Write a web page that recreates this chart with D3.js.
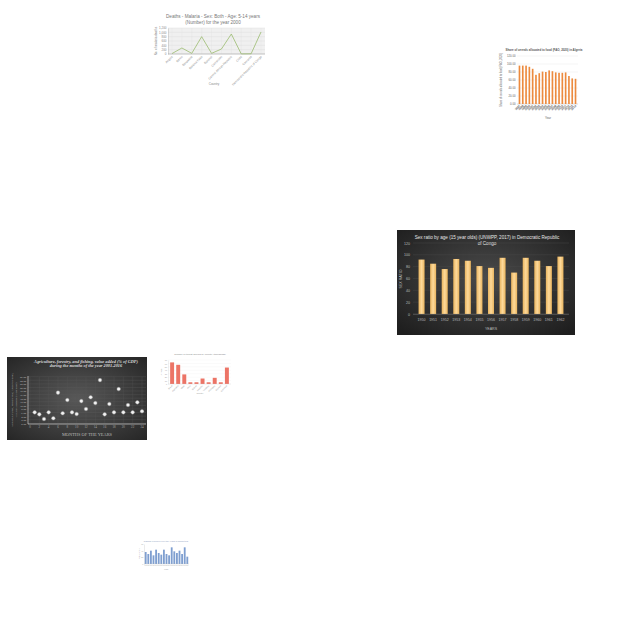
<!DOCTYPE html>
<html><head><meta charset="utf-8">
<script src="https://cdn.jsdelivr.net/npm/d3@7"></script>
<style>html,body{margin:0;padding:0;background:#fff;}svg{display:block;}</style>
</head><body>
<script>
// ---------- DATA ----------
const malariaCountries = ["Angola","Benin","Botswana","Burkina Faso","Burundi","Cameroon","Central African Republic","Chad","Comoros","Democratic Republic of Congo"];
const malariaDeaths = [20, 277, 30, 800, 30, 230, 923, 5, 10, 1015];
const malariaTicks = [0, 200, 400, 600, 800, 1000, 1200];

const cerealYears = ["1997","1998","1999","2000","2001","2002","2003","2004","2005","2006","2007","2008","2009","2010","2011","2012","2013","2014"];
const cerealShare = [96, 96, 96, 93, 88, 73, 77, 81, 80, 84, 82, 79, 78, 78, 79, 70, 64, 63];
const cerealTicks = [0, 20, 40, 60, 80, 100, 120];

const sexRatioYears = ["1950","1951","1952","1953","1954","1955","1956","1957","1958","1959","1960","1961","1962"];
const sexRatioValues = [92, 85, 76, 93, 90, 81, 78, 95, 70, 95, 90, 81, 97];
const sexRatioTicks = [0, 20, 40, 60, 80, 100, 120];

const agriMonths = [1,2,3,4,5,6,7,8,9,10,11,12,13,14,15,16,17,18,19,20,21,22,23,24];
const agriValues = [6.1, 5.0, 2.4, 6.1, 2.8, 17.1, 5.6, 13.0, 6.1, 5.2, 12.4, 8.0, 14.5, 11.3, 24.1, 5.0, 10.8, 6.1, 19.1, 6.1, 10.2, 6.1, 11.7, 6.7];
const agriXTicks = [0,2,4,6,8,10,12,14,16,18,20,22,24];
const agriYTicks = [0,2,4,6,8,10,12,14,16,18,20,22,24,26];

const smallCountries = ["Brazil","Argentina","Chile","Peru","Bolivia","Ecuador","Uruguay","Paraguay","Guyana","Colombia"];
const smallValues = [63, 56, 28, 5, 5, 16, 5, 18, 5, 48];
const smallTicks = [0, 10, 20, 30, 40, 50, 60, 70];

const blueYears = ["1995","1996","1997","1998","1999","2000","2001","2002","2003","2004","2005","2006","2007","2008","2009","2010","2011"];
const blueValues = [36, 30, 40, 26, 43, 33, 28, 43, 30, 26, 50, 38, 33, 40, 30, 50, 22];
const blueTicks = [0, 20, 40, 60];

// ---------- SVG ----------
const svg = d3.select("body").append("svg").attr("width", 640).attr("height", 640);
const defs = svg.append("defs");

// ===== Chart 1: malaria line =====
(function(){
  const g = svg.append("g");
  const sans = "Liberation Sans, Arial, sans-serif";
  g.append("text").attr("x", 213).attr("y", 17.5).attr("text-anchor","middle")
    .attr("font-family", sans).attr("font-size", 4.6).attr("fill","#777")
    .text("Deaths - Malaria - Sex: Both - Age: 5-14 years");
  g.append("text").attr("x", 213).attr("y", 24).attr("text-anchor","middle")
    .attr("font-family", sans).attr("font-size", 4.6).attr("fill","#777")
    .text("(Number) for the year 2000");
  const x = d3.scalePoint().domain(malariaCountries).range([172, 261]);
  const y = d3.scaleLinear().domain([0, 1200]).range([54, 28]);
  g.append("rect").attr("x",168).attr("y",28).attr("width",97).attr("height",26).attr("fill","#f0f0f0");
  g.selectAll(".gl").data(malariaTicks).join("line")
    .attr("x1",168).attr("x2",265).attr("y1",d=>y(d)).attr("y2",d=>y(d))
    .attr("stroke","#dcdcdc").attr("stroke-width",0.4);
  g.selectAll(".gv").data(malariaCountries).join("line")
    .attr("x1",d=>x(d)).attr("x2",d=>x(d)).attr("y1",28).attr("y2",54)
    .attr("stroke","#e2e2e2").attr("stroke-width",0.3);
  const ya = g.append("g").attr("transform","translate(168,0)")
    .call(d3.axisLeft(y).tickValues(malariaTicks).tickSize(0).tickPadding(1.5));
  ya.select(".domain").attr("stroke","#aaa").attr("stroke-width",0.4);
  ya.selectAll("text").attr("font-size",3).attr("fill","#888").attr("font-family",sans);
  g.append("line").attr("x1",168).attr("x2",265).attr("y1",54).attr("y2",54).attr("stroke","#999").attr("stroke-width",0.5);
  g.selectAll(".xl").data(malariaCountries).join("text")
    .attr("transform",d=>`translate(${x(d)+1},${57}) rotate(-45)`)
    .attr("text-anchor","end").attr("font-size",3).attr("fill","#888").attr("font-family",sans)
    .text(d=>d);
  g.append("path").datum(malariaDeaths)
    .attr("d", d3.line().x((d,i)=>x(malariaCountries[i])).y(d=>y(d)))
    .attr("fill","none").attr("stroke","#9bbb6e").attr("stroke-width",0.8);
  g.append("text").attr("x",214).attr("y",84.5).attr("text-anchor","middle")
    .attr("font-size",3).attr("fill","#888").attr("font-family",sans).text("Country");
  g.append("text").attr("transform","translate(157,41) rotate(-90)").attr("text-anchor","middle")
    .attr("font-size",3).attr("fill","#888").attr("font-family",sans).text("No. of malaria deaths");
})();

// ===== Chart 2: Algeria cereals =====
(function(){
  const g = svg.append("g");
  const sans = "Liberation Sans, Arial, sans-serif";
  g.append("text").attr("x",544).attr("y",50.5).attr("text-anchor","middle")
    .attr("font-family",sans).attr("font-size",2.9).attr("font-weight","bold").attr("fill","#555")
    .text("Share of cereals allocated to food (FAO, 2020) in Algeria");
  const x = d3.scaleBand().domain(cerealYears).range([517, 578]).padding(0.5);
  const y = d3.scaleLinear().domain([0, 120]).range([104, 56]);
  g.selectAll(".gl").data(cerealTicks).join("line")
    .attr("x1",517).attr("x2",578).attr("y1",d=>y(d)).attr("y2",d=>y(d))
    .attr("stroke","#e4e4e4").attr("stroke-width",0.4);
  const ya = g.append("g").attr("transform","translate(517,0)")
    .call(d3.axisLeft(y).tickValues(cerealTicks).tickFormat(d3.format(".2f")).tickSize(0).tickPadding(1.5));
  ya.select(".domain").remove();
  ya.selectAll("text").attr("font-size",2.8).attr("fill","#666").attr("font-family",sans);
  g.append("line").attr("x1",517).attr("x2",578).attr("y1",104).attr("y2",104).attr("stroke","#bbb").attr("stroke-width",0.4);
  g.selectAll(".bar").data(cerealShare).join("rect")
    .attr("x",(d,i)=>x(cerealYears[i])).attr("y",d=>y(d))
    .attr("width",x.bandwidth()).attr("height",d=>104-y(d)).attr("fill","#ec8a3e");
  g.selectAll(".xl").data(cerealYears).join("text")
    .attr("transform",d=>`translate(${x(d)+x.bandwidth()/2+1},${106}) rotate(-45)`)
    .attr("text-anchor","end").attr("font-size",2.9).attr("font-weight","bold").attr("fill","#666").attr("font-family",sans)
    .text(d=>d);
  g.append("text").attr("x",548).attr("y",118.5).attr("text-anchor","middle")
    .attr("font-size",3).attr("fill","#666").attr("font-family",sans).text("Year");
  g.append("text").attr("transform","translate(502,80) rotate(-90)").attr("text-anchor","middle")
    .attr("font-size",2.6).attr("fill","#666").attr("font-family",sans).text("Share of cereals allocated to food (FAO, 2020)");
})();

// ===== Chart 3: Sex ratio DRC (dark) =====
(function(){
  const g = svg.append("g");
  const sans = "Liberation Sans, Arial, sans-serif";
  const bg = defs.append("radialGradient").attr("id","bg3").attr("cx","50%").attr("cy","45%").attr("r","70%");
  bg.append("stop").attr("offset","0%").attr("stop-color","#4a4a4a");
  bg.append("stop").attr("offset","100%").attr("stop-color","#1e1e1e");
  const bar = defs.append("linearGradient").attr("id","bar3").attr("x1","0").attr("x2","1").attr("y1","0").attr("y2","0");
  bar.append("stop").attr("offset","0%").attr("stop-color","#e9b45e");
  bar.append("stop").attr("offset","50%").attr("stop-color","#fdd99a");
  bar.append("stop").attr("offset","100%").attr("stop-color","#e9b45e");
  g.append("rect").attr("x",397).attr("y",230).attr("width",178).attr("height",105).attr("fill","url(#bg3)");
  g.append("text").attr("x",487).attr("y",239).attr("text-anchor","middle")
    .attr("font-family",sans).attr("font-size",4.6).attr("fill","#e6e6e6")
    .text("Sex ratio by age (15 year olds) (UNWPP, 2017) in Democratic Republic");
  g.append("text").attr("x",487).attr("y",245).attr("text-anchor","middle")
    .attr("font-family",sans).attr("font-size",4.6).attr("fill","#e6e6e6").text("of Congo");
  const x = d3.scaleBand().domain(sexRatioYears).range([413, 569]).padding(0.48);
  const y = d3.scaleLinear().domain([0, 120]).range([314, 243]);
  g.selectAll(".gl").data(sexRatioTicks).join("line")
    .attr("x1",413).attr("x2",569).attr("y1",d=>y(d)).attr("y2",d=>y(d))
    .attr("stroke","#4d4d4d").attr("stroke-width",0.4);
  const ya = g.append("g").attr("transform","translate(412,0)")
    .call(d3.axisLeft(y).tickValues(sexRatioTicks).tickSize(0).tickPadding(2));
  ya.select(".domain").remove();
  ya.selectAll("text").attr("font-size",3.6).attr("fill","#bbb").attr("font-family",sans);
  g.selectAll(".bar").data(sexRatioValues).join("rect")
    .attr("x",(d,i)=>x(sexRatioYears[i])).attr("y",d=>y(d))
    .attr("width",x.bandwidth()).attr("height",d=>314-y(d)).attr("fill","url(#bar3)");
  g.append("line").attr("x1",413).attr("x2",569).attr("y1",314.3).attr("y2",314.3).attr("stroke","#777").attr("stroke-width",0.5);
  g.selectAll(".xl").data(sexRatioYears).join("text")
    .attr("x",d=>x(d)+x.bandwidth()/2).attr("y",320.5).attr("text-anchor","middle")
    .attr("font-size",3.6).attr("fill","#bbb").attr("font-family",sans).text(d=>d);
  g.append("text").attr("x",491).attr("y",330).attr("text-anchor","middle")
    .attr("font-size",3.6).attr("fill","#bbb").attr("font-family",sans).text("YEARS");
  g.append("text").attr("transform","translate(402,279) rotate(-90)").attr("text-anchor","middle")
    .attr("font-size",3.6).attr("fill","#bbb").attr("font-family",sans).text("SEX RATIO");
})();

// ===== Chart 4: Agriculture scatter (dark) =====
(function(){
  const g = svg.append("g");
  const serif = "Liberation Serif, 'DejaVu Serif', serif";
  const bg = defs.append("radialGradient").attr("id","bg4").attr("cx","50%").attr("cy","50%").attr("r","70%");
  bg.append("stop").attr("offset","0%").attr("stop-color","#585858");
  bg.append("stop").attr("offset","100%").attr("stop-color","#262626");
  g.append("rect").attr("x",7).attr("y",357).attr("width",140).attr("height",83).attr("fill","url(#bg4)");
  g.append("text").attr("x",86).attr("y",362.5).attr("text-anchor","middle")
    .attr("font-family",serif).attr("font-size",4.3).attr("font-style","italic").attr("font-weight","bold").attr("fill","#ddd")
    .text("Agriculture, forestry, and fishing, value added (% of GDP)");
  g.append("text").attr("x",86).attr("y",367).attr("text-anchor","middle")
    .attr("font-family",serif).attr("font-size",4.3).attr("font-style","italic").attr("font-weight","bold").attr("fill","#ddd")
    .text("during the months of the year 2001-2016");
  const x = d3.scaleLinear().domain([0, 24]).range([30, 142]);
  const y = d3.scaleLinear().domain([0, 26]).range([423.3, 376.7]);
  g.selectAll(".gl").data(agriYTicks).join("line")
    .attr("x1",28).attr("x2",146).attr("y1",d=>y(d)).attr("y2",d=>y(d))
    .attr("stroke","#5e5e5e").attr("stroke-width",0.3);
  g.selectAll(".gv").data(agriXTicks).join("line")
    .attr("x1",d=>x(d)).attr("x2",d=>x(d)).attr("y1",376.7).attr("y2",423.3)
    .attr("stroke","#5a5a5a").attr("stroke-width",0.3);
  g.append("line").attr("x1",28).attr("x2",28).attr("y1",376).attr("y2",424).attr("stroke","#cfcfcf").attr("stroke-width",0.7);
  g.append("line").attr("x1",28).attr("x2",146).attr("y1",424).attr("y2",424).attr("stroke","#cfcfcf").attr("stroke-width",0.7);
  const ya = g.append("g").attr("transform","translate(27,0)")
    .call(d3.axisLeft(y).tickValues(agriYTicks).tickFormat(d3.format(".2f")).tickSize(0).tickPadding(0.8));
  ya.select(".domain").remove();
  ya.selectAll("text").attr("font-size",2.8).attr("fill","#bbb").attr("font-family",serif);
  g.selectAll(".xl").data(agriXTicks).join("text")
    .attr("x",d=>x(d)).attr("y",428).attr("text-anchor","middle")
    .attr("font-size",3.2).attr("fill","#aaa").attr("font-family",serif).text(d=>d);
  g.append("text").attr("x",87).attr("y",436).attr("text-anchor","middle")
    .attr("font-size",4.4).attr("fill","#bbb").attr("font-family",serif).text("MONTHS OF THE YEARS");
  g.append("text").attr("transform","translate(13,400) rotate(-90)").attr("text-anchor","middle")
    .attr("font-size",2.8).attr("fill","#aaa").attr("font-family",serif).text("AGRICULTURE, FORESTRY, AND FISHING,");
  g.append("text").attr("transform","translate(17,400) rotate(-90)").attr("text-anchor","middle")
    .attr("font-size",2.8).attr("fill","#aaa").attr("font-family",serif).text("VALUE ADDED (% OF GDP)");
  g.selectAll(".pt").data(agriValues).join("circle")
    .attr("cx",(d,i)=>x(agriMonths[i])).attr("cy",d=>y(d)).attr("r",1.8)
    .attr("fill","#f2f2f2").attr("stroke","#999").attr("stroke-width",0.4);
})();

// ===== Chart 5: small coral bars =====
(function(){
  const g = svg.append("g");
  const sans = "Liberation Sans, Arial, sans-serif";
  g.append("text").attr("x",200).attr("y",354.5).attr("text-anchor","middle")
    .attr("font-family",sans).attr("font-size",2.4).attr("fill","#888")
    .text("Number of tourist arrivals by country (thousands)");
  const x = d3.scaleBand().domain(smallCountries).range([168, 231]).padding(0.35);
  const y = d3.scaleLinear().domain([0, 70]).range([384, 360]);
  g.selectAll(".gl").data(smallTicks).join("line")
    .attr("x1",168).attr("x2",231).attr("y1",d=>y(d)).attr("y2",d=>y(d))
    .attr("stroke","#eee").attr("stroke-width",0.3);
  const ya = g.append("g").attr("transform","translate(168,0)")
    .call(d3.axisLeft(y).tickValues(smallTicks).tickSize(0).tickPadding(1));
  ya.select(".domain").attr("stroke","#ccc").attr("stroke-width",0.3);
  ya.selectAll("text").attr("font-size",2).attr("fill","#999").attr("font-family",sans);
  g.selectAll(".bar").data(smallValues).join("rect")
    .attr("x",(d,i)=>x(smallCountries[i])).attr("y",d=>y(d))
    .attr("width",x.bandwidth()).attr("height",d=>384-y(d)).attr("fill","#ec7466");
  g.append("line").attr("x1",168).attr("x2",231).attr("y1",384).attr("y2",384).attr("stroke","#ccc").attr("stroke-width",0.3);
  g.selectAll(".xl").data(smallCountries).join("text")
    .attr("transform",d=>`translate(${x(d)+x.bandwidth()/2+0.5},${386}) rotate(-45)`)
    .attr("text-anchor","end").attr("font-size",2).attr("fill","#999").attr("font-family",sans).text(d=>d);
  g.append("text").attr("x",200).attr("y",394).attr("text-anchor","middle")
    .attr("font-size",2).attr("fill","#999").attr("font-family",sans).text("Country");
  g.append("text").attr("transform","translate(162,372) rotate(-90)").attr("text-anchor","middle")
    .attr("font-size",2).attr("fill","#999").attr("font-family",sans).text("Arrivals");
})();

// ===== Chart 6: small blue bars =====
(function(){
  const g = svg.append("g");
  const sans = "Liberation Sans, Arial, sans-serif";
  g.append("text").attr("x",166).attr("y",542).attr("text-anchor","middle")
    .attr("font-family",sans).attr("font-size",2.2).attr("fill","#8899bb")
    .text("Rainfall recorded over the years in millimetres");
  const x = d3.scaleBand().domain(blueYears).range([144, 189]).padding(0.3);
  const y = d3.scaleLinear().domain([0, 60]).range([564, 544]);
  const ya = g.append("g").attr("transform","translate(144,0)")
    .call(d3.axisLeft(y).tickValues(blueTicks).tickSize(0).tickPadding(0.8));
  ya.select(".domain").attr("stroke","#bbb").attr("stroke-width",0.3);
  ya.selectAll("text").attr("font-size",1.8).attr("fill","#999").attr("font-family",sans);
  g.selectAll(".bar").data(blueValues).join("rect")
    .attr("x",(d,i)=>x(blueYears[i])).attr("y",d=>y(d))
    .attr("width",x.bandwidth()).attr("height",d=>564-y(d)).attr("fill","#7f9fd0");
  g.append("line").attr("x1",144).attr("x2",189).attr("y1",564).attr("y2",564).attr("stroke","#bbb").attr("stroke-width",0.3);
  g.selectAll(".xl").data(blueYears).join("text")
    .attr("x",d=>x(d)+x.bandwidth()/2).attr("y",566).attr("text-anchor","middle")
    .attr("font-size",1).attr("fill","#aaa").attr("font-family",sans).text(d=>d);
  g.append("text").attr("x",166).attr("y",570).attr("text-anchor","middle")
    .attr("font-size",1.8).attr("fill","#99a").attr("font-family",sans).text("Years");
  g.append("text").attr("transform","translate(140,554) rotate(-90)").attr("text-anchor","middle")
    .attr("font-size",1.8).attr("fill","#99a").attr("font-family",sans).text("Rainfall (mm)");
})();
</script>
</body></html>
